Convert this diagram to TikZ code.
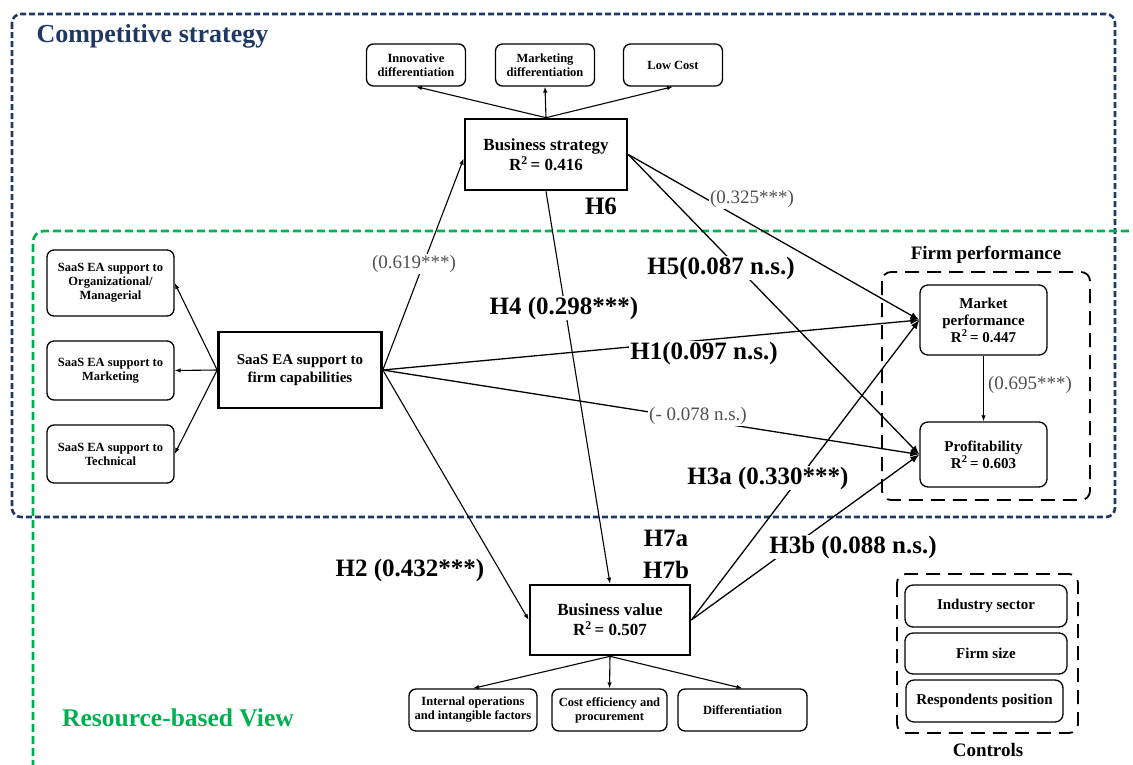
\documentclass[tikz,border=0pt]{standalone}
\usepackage{fontspec}
\setmainfont{Liberation Serif}
\usetikzlibrary{arrows.meta,calc}
\definecolor{navy}{RGB}{31,56,100}
\definecolor{rbvgreen}{RGB}{0,176,80}
\definecolor{coefgray}{RGB}{80,80,80}
\begin{document}
\begin{tikzpicture}[x=1pt,y=-1pt,
  indbox/.style={draw, rounded corners=7pt, line width=1.3pt, align=center, inner sep=1pt,
    font=\fontsize{12.5}{14}\selectfont\bfseries},
  ctlbox/.style={draw, rounded corners=8pt, line width=1.3pt, align=center, inner sep=1pt,
    font=\fontsize{15}{18}\selectfont\bfseries},
  perfbox/.style={draw, rounded corners=8pt, line width=1.3pt, align=center, inner sep=1pt,
    font=\fontsize{15}{17}\selectfont\bfseries},
  constr/.style={draw, line width=2.6pt, align=center, inner sep=1pt,
    font=\fontsize{17}{20}\selectfont\bfseries},
  conn/.style={-{Latex[length=6pt,width=4.5pt]}, line width=1.1pt},
  mainpath/.style={-{Latex[length=9pt,width=7pt]}, line width=1.3pt},
  hyp/.style={fill=white, inner sep=1pt, font=\fontsize{25}{29}\selectfont\bfseries},
  coef/.style={fill=white, inner sep=1.5pt, text=coefgray, font=\fontsize{19}{22}\selectfont},
  grouplabel/.style={font=\fontsize{19}{22}\selectfont\bfseries},
  groupframe/.style={draw, line width=1.8pt, dash pattern=on 14pt off 8pt, rounded corners=9pt}
]
\useasboundingbox (0,0) rectangle (1133,764);

% theory frames
\draw[navy, line width=2.6pt, dash pattern=on 6pt off 3pt, rounded corners=9pt]
  (12,14) rectangle (1115,517);
\draw[rbvgreen, line width=2.6pt, dash pattern=on 8pt off 4pt, rounded corners=11pt]
  (33,780) -- (33,231) -- (1150,231);
\node[anchor=west, text=navy, font=\fontsize{26}{30}\selectfont\bfseries] (cs) at (33,36) {Competitive strategy};
\node[text=rbvgreen, font=\fontsize{25.5}{29}\selectfont\bfseries] (rbv) at (178,718) {Resource-based View};

% business strategy and its indicators
\node[constr, minimum width=162, minimum height=71] (bs) at (546,154.5) {Business strategy\\R\textsuperscript{2}\,= 0.416};
\node[indbox, minimum width=99, minimum height=42] (inn) at (416,65) {Innovative\\differentiation};
\node[indbox, minimum width=99, minimum height=42] (mkd) at (545,65) {Marketing\\differentiation};
\node[indbox, minimum width=99, minimum height=42] (low) at (673,65) {Low Cost};

% SaaS EA support and its indicators
\node[constr, minimum width=163, minimum height=76, font=\fontsize{15}{18}\selectfont\bfseries] (saas) at (300,370) {SaaS EA support to\\firm capabilities};
\node[indbox, minimum width=127, minimum height=66] (org) at (110.5,283) {SaaS EA support to\\Organizational/\\Managerial};
\node[indbox, minimum width=127, minimum height=59] (mkt) at (110.5,370.5) {SaaS EA support to\\Marketing};
\node[indbox, minimum width=127, minimum height=58] (tec) at (110.5,454) {SaaS EA support to\\Technical};

% business value and its indicators
\node[constr, minimum width=160, minimum height=70] (bv) at (610,620) {Business value\\R\textsuperscript{2}\,= 0.507};
\node[indbox, minimum width=128, minimum height=42] (io) at (473,710) {Internal operations\\and intangible factors};
\node[indbox, minimum width=115, minimum height=42] (ce) at (609.5,710) {Cost efficiency and\\procurement};
\node[indbox, minimum width=129, minimum height=42] (df) at (742.5,710) {Differentiation};

% firm performance
\draw[groupframe] (882,272) rectangle (1090,500);
\node[grouplabel] (fplab) at (986,255) {Firm performance};
\node[perfbox, minimum width=127, minimum height=70] (mp) at (983.5,320) {Market\\performance\\R\textsuperscript{2}\,= 0.447};
\node[perfbox, minimum width=127, minimum height=65] (pr) at (983.5,454.5) {Profitability\\R\textsuperscript{2}\,= 0.603};

% controls
\draw[groupframe] (897,574) rectangle (1078,733);
\node[ctlbox, minimum width=162, minimum height=42] (ind) at (986,606) {Industry sector};
\node[ctlbox, minimum width=162, minimum height=41] (fsz) at (986,653.5) {Firm size};
\node[ctlbox, minimum width=157, minimum height=42] (rp) at (984.5,701) {Respondents position};
\node[grouplabel] (ctl) at (988,750) {Controls};

% measurement arrows
\draw[conn] (bs.north) -- (inn.south);
\draw[conn] (bs.north) -- (mkd.south);
\draw[conn] (bs.north) -- (low.south);
\draw[conn] (saas.west) -- (org.east);
\draw[conn] (saas.west) -- (mkt.east);
\draw[conn] (saas.west) -- (tec.east);
\draw[conn] (bv.south) -- (io.north);
\draw[conn] (bv.south) -- (ce.north);
\draw[conn] (bv.south) -- (df.north);

% structural paths
\draw[conn] (saas.east) -- ([yshift=-4pt]bs.west);
\draw[conn] (saas.east) -- (bv.west);
\draw[conn] (bs.south) -- (bv.north);
\draw[mainpath] (bs.east) -- (mp.west);
\draw[mainpath] (bs.east) -- (pr.west);
\draw[mainpath] (saas.east) -- (mp.west);
\draw[mainpath] (saas.east) -- (pr.west);
\draw[mainpath] (bv.east) -- (mp.west);
\draw[mainpath] (bv.east) -- (pr.west);
\draw[conn] (mp.south) -- (pr.north);

% path estimates
\node[coef] (c619) at (414,264) {(0.619***)};
\node[coef] (c325) at (752,199) {(0.325***)};
\node[coef] (c078) at (698,416) {(- 0.078 n.s.)};
\node[coef] (c695) at (1030,385) {(0.695***)};
\node[hyp] (h6) at (601,206) {H6};
\node[hyp] (h5) at (721,268) {H5(0.087 n.s.)};
\node[hyp] (h4) at (564,308) {H4 (0.298***)};
\node[hyp] (h1) at (704,353) {H1(0.097 n.s.)};
\node[hyp] (h3a) at (768,478) {H3a (0.330***)};
\node[hyp] (h2) at (410,570) {H2 (0.432***)};
\node[hyp] (h7a) at (666,538) {H7a};
\node[hyp] (h7b) at (666,570) {H7b};
\node[hyp] (h3b) at (853,547) {H3b (0.088 n.s.)};
\end{tikzpicture}
\end{document}
